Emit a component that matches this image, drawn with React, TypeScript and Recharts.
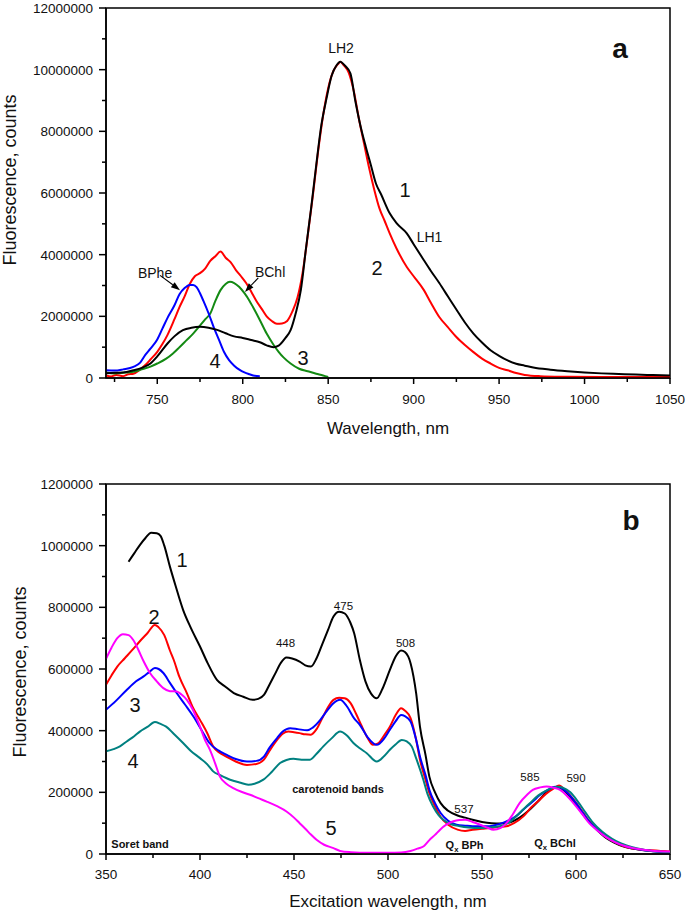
import React from 'react';
import { LineChart, Line, XAxis, YAxis, ReferenceDot, ReferenceLine, ReferenceArea } from 'recharts';

const FONT = '"Liberation Sans", Arial, Helvetica, sans-serif';
type Pt = [number, number];

// ---------- Panel a : emission spectra (wavelength nm, counts) ----------
const aCurve1: Pt[] = [
  [720, 150000], [725, 170000], [730, 180000], [736, 250000], [741, 330000], [746, 470000], [750, 700000],
  [756, 1120000], [760, 1350000], [765, 1550000], [770, 1630000], [775, 1660000], [780, 1630000], [785, 1560000],
  [790, 1450000], [795, 1350000], [800, 1300000], [805, 1230000], [810, 1160000], [814, 1060000], [818, 1000000],
  [821, 1050000], [825, 1300000], [828, 1550000], [831, 2100000], [834, 2850000], [837, 4200000], [840, 5500000],
  [843, 6900000], [846, 8200000], [849, 9060000], [852, 9800000], [855, 10150000], [857, 10260000], [860, 10120000],
  [863, 9880000], [866, 8950000], [869, 8150000], [872, 7500000], [875, 6900000], [878, 6300000], [881, 5950000],
  [886, 5340000], [890, 5020000], [896, 4690000], [900, 4340000], [906, 3820000], [910, 3480000], [915, 3080000],
  [920, 2650000], [925, 2220000], [930, 1800000], [935, 1440000], [940, 1150000], [945, 900000], [950, 720000],
  [955, 570000], [960, 460000], [965, 400000], [970, 340000], [980, 270000], [990, 220000], [1000, 180000],
  [1010, 150000], [1020, 130000], [1030, 110000], [1040, 95000], [1050, 80000],
];
const aCurve2: Pt[] = [
  [720, 80000], [723, 50000], [726, 100000], [730, 60000], [733, 120000], [736, 140000], [740, 280000], [743, 420000],
  [746, 600000], [750, 850000], [753, 1100000], [756, 1400000], [760, 1900000], [763, 2300000], [766, 2650000],
  [769, 3050000], [772, 3300000], [775, 3400000], [778, 3550000], [781, 3800000], [784, 3950000], [787, 4100000],
  [790, 3900000], [793, 3750000], [796, 3500000], [799, 3300000], [802, 3080000], [805, 2800000], [808, 2500000],
  [811, 2250000], [814, 2000000], [817, 1850000], [820, 1760000], [823, 1770000], [826, 1850000], [829, 2150000],
  [832, 2600000], [835, 3400000], [838, 4600000], [841, 5900000], [844, 7300000], [847, 8500000], [850, 9400000],
  [853, 9950000], [856, 10200000], [857, 10260000], [859, 10150000], [862, 9900000], [865, 9300000], [868, 8400000],
  [871, 7600000], [874, 6800000], [877, 6100000], [880, 5500000], [883, 5100000], [886, 4690000], [890, 4200000],
  [896, 3600000], [900, 3300000], [906, 2850000], [910, 2450000], [915, 1980000], [920, 1650000], [925, 1330000],
  [930, 1070000], [935, 840000], [940, 630000], [945, 470000], [950, 330000], [955, 250000], [960, 160000],
  [965, 100000], [974, 60000], [990, 40000], [1010, 30000], [1050, 30000],
];
const aCurve3: Pt[] = [
  [720, 180000], [725, 150000], [730, 170000], [736, 200000], [741, 280000], [746, 370000], [750, 470000],
  [755, 620000], [759, 790000], [763, 1000000], [767, 1220000], [771, 1440000], [775, 1700000], [778, 1900000],
  [781, 2090000], [784, 2500000], [787, 2850000], [790, 3050000], [792.5, 3120000], [795, 3080000], [798, 2950000],
  [801, 2750000], [804, 2500000], [806, 2300000], [810, 1880000], [814, 1440000], [818, 1080000], [821, 850000],
  [824, 660000], [828, 470000], [833, 300000], [838, 220000], [843, 140000], [847, 80000], [850, 30000],
];
const aCurve4: Pt[] = [
  [720, 250000], [725, 240000], [730, 280000], [736, 360000], [740, 500000], [743, 750000], [746, 950000],
  [750, 1250000], [753, 1600000], [756, 1950000], [760, 2350000], [763, 2720000], [766, 2920000], [769, 3020000],
  [771, 3020000], [773, 2950000], [775, 2750000], [777, 2500000], [780, 2100000], [783, 1650000], [786, 1250000],
  [789, 850000], [792, 580000], [795, 400000], [798, 270000], [801, 180000], [804, 120000], [807, 70000], [810, 60000],
];
const aXMajor = [750, 800, 850, 900, 950, 1000, 1050];
const aXMinor = [725, 775, 825, 875, 925, 975, 1025];
const aYMajor = [0, 2000000, 4000000, 6000000, 8000000, 10000000, 12000000];
const aYMinor = [1000000, 3000000, 5000000, 7000000, 9000000, 11000000];

type Note = { x: number; y: number; t: string; s: number; bold?: boolean; sub?: string; rest?: string };
const aNotes: Note[] = [
  { x: 857.5, y: 10700000, t: 'LH2', s: 14 },
  { x: 895, y: 6090000, t: '1', s: 20 },
  { x: 909.3, y: 4570000, t: 'LH1', s: 14 },
  { x: 878.6, y: 3560000, t: '2', s: 20 },
  { x: 783.8, y: 540000, t: '4', s: 20 },
  { x: 835.3, y: 640000, t: '3', s: 20 },
  { x: 748.7, y: 3400000, t: 'BPhe', s: 14 },
  { x: 816, y: 3430000, t: 'BChl', s: 14 },
  { x: 1020.8, y: 10700000, t: 'a', s: 28, bold: true },
];
const aArrows: [Pt, Pt][] = [
  [[751.6, 3330000], [763.3, 2850000]],
  [[809.1, 3250000], [801.3, 2790000]],
];

// ---------- Panel b : excitation spectra ----------
const bCurve1: Pt[] = [
  [362, 948000], [365, 975000], [368, 1002000], [371, 1025000], [374, 1042000], [377, 1040000], [379, 1032000],
  [381, 1000000], [384, 932000], [387, 870000], [391, 792000], [395, 735000], [400, 673000], [404, 620000],
  [409, 565000], [413, 545000], [418, 522000], [423, 510000], [428, 500000], [431, 503000], [434, 516000],
  [437, 550000], [440, 585000], [443, 620000], [446, 637000], [449, 634000], [453, 624000], [456, 612000],
  [459, 608000], [462, 635000], [465, 680000], [468, 725000], [471, 770000], [474, 786000], [477, 780000],
  [480, 750000], [482, 716000], [485, 630000], [488, 560000], [491, 520000], [494, 505000], [497, 535000],
  [501, 597000], [504, 640000], [507, 660000], [509, 655000], [512, 619000], [515, 520000], [517, 413000],
  [520, 320000], [522, 251000], [525, 200000], [528, 165000], [532, 140000], [537, 125000], [541, 118000],
  [545, 111000], [550, 104000], [555, 100000], [560, 99000], [565, 103000], [570, 118000], [575, 142000],
  [580, 172000], [585, 205000], [588, 216000], [591, 216000], [595, 198000], [600, 160000], [605, 118000],
  [610, 85000], [616, 52000], [620, 38000], [625, 25000], [630, 18000], [635, 13000], [640, 10000], [645, 8000],
  [650, 6000],
];
const bCurve2: Pt[] = [
  [350, 549000], [353, 580000], [356, 608000], [360, 635000], [364, 662000], [368, 690000], [372, 716000],
  [376, 743000], [378, 735000], [381, 710000], [384, 660000], [386, 630000], [389, 575000], [393, 522000],
  [396, 478000], [400, 435000], [404, 390000], [407, 349000], [410, 330000], [414, 316000], [419, 300000],
  [425, 289000], [430, 292000], [434, 306000], [437, 335000], [441, 370000], [444, 390000], [447, 397000],
  [450, 395000], [453, 392000], [456, 388000], [459, 387000], [462, 405000], [465, 440000], [468, 475000],
  [471, 500000], [474, 507000], [477, 505000], [480, 490000], [483, 455000], [486, 415000], [489, 378000],
  [492, 354000], [495, 360000], [498, 385000], [501, 413000], [504, 450000], [507, 473000], [509, 465000],
  [512, 441000], [515, 370000], [517, 306000], [520, 240000], [522, 198000], [525, 155000], [528, 120000],
  [532, 95000], [537, 79000], [541, 75000], [545, 79000], [550, 82000], [554, 84000], [559, 88000], [563, 90000],
  [567, 100000], [572, 122000], [576, 150000], [580, 172000], [584, 195000], [588, 212000], [591, 222000],
  [594, 208000], [598, 182000], [602, 150000], [606, 115000], [610, 88000], [616, 55000], [620, 40000],
  [625, 26000], [630, 18000], [635, 14000], [640, 12000], [645, 10000], [650, 8000],
];
const bCurve3: Pt[] = [
  [350, 468000], [355, 495000], [361, 532000], [366, 560000], [370, 576000], [373, 590000], [376, 603000],
  [378, 600000], [380.5, 587000], [384, 555000], [387.6, 522000], [392, 485000], [396.5, 446000], [401, 400000],
  [405, 360000], [410, 335000], [414, 322000], [419, 308000], [425, 300000], [430, 302000], [434, 316000],
  [437, 345000], [441, 376000], [444, 397000], [448, 408000], [452, 405000], [457, 401000], [460, 410000],
  [464, 435000], [467, 460000], [471, 489000], [474.5, 500000], [478, 480000], [482, 440000], [485, 419000],
  [489, 380000], [494, 354000], [498, 375000], [501, 403000], [504, 430000], [507, 451000], [509, 447000],
  [512, 430000], [515, 370000], [517, 316000], [520, 255000], [522, 208000], [525, 165000], [528, 133000],
  [532, 108000], [536.5, 95000], [541, 92000], [545, 90000], [550, 90000], [554, 90000], [559, 97000],
  [563, 106000], [568, 122000], [572, 144000], [577, 170000], [581, 192000], [585, 208000], [589, 218000],
  [592, 215000], [596, 195000], [600, 165000], [604, 130000], [608, 98000], [613, 70000], [618, 48000],
  [623, 32000], [628, 22000], [635, 14000], [640, 10000], [645, 6000], [650, 4000],
];
const bCurve4: Pt[] = [
  [350, 333000], [354, 340000], [357.4, 349000], [361, 365000], [365, 382000], [368, 397000], [372, 412000],
  [376, 428000], [379, 422000], [382, 413000], [386, 390000], [391, 360000], [395, 335000], [400, 311000],
  [404, 290000], [407, 268000], [411, 255000], [416, 241000], [421, 232000], [425.7, 225000], [429, 228000],
  [433.7, 241000], [438, 265000], [442.6, 295000], [446, 305000], [449.7, 309000], [454, 306000], [458.5, 306000],
  [462, 325000], [465.6, 349000], [470, 375000], [474.5, 397000], [478, 385000], [481.6, 360000], [485, 343000],
  [488.7, 327000], [494, 300000], [498, 318000], [501, 338000], [504, 355000], [507.3, 370000], [510, 365000],
  [512.6, 349000], [515, 310000], [518.8, 241000], [521, 195000], [524, 154000], [527, 125000], [529.4, 111000],
  [533, 98000], [538.3, 90000], [543, 86000], [548.9, 84000], [554, 86000], [559.6, 90000], [565, 105000],
  [570, 133000], [575, 162000], [580, 190000], [585, 208000], [590, 218000], [593, 215000], [597, 200000],
  [601, 170000], [605, 135000], [609, 102000], [614, 72000], [619, 50000], [624, 34000], [630, 22000],
  [636, 14000], [642, 9000], [650, 5000],
];
const bCurve5: Pt[] = [
  [350, 633000], [353, 670000], [356, 700000], [359, 713000], [362, 710000], [364.5, 694000], [367, 665000],
  [370, 625000], [373.4, 587000], [377, 560000], [380.5, 538000], [384, 528000], [387.6, 527000], [390, 518000],
  [393, 500000], [396, 470000], [400, 413000], [403, 365000], [405.3, 338000], [408, 295000], [410.6, 251000],
  [414, 228000], [417.7, 214000], [422, 202000], [426.6, 192000], [431, 181000], [435.5, 170000], [441, 155000],
  [446, 138000], [450, 118000], [453, 100000], [456, 82000], [459, 63000], [462, 46000], [466, 30000],
  [471, 19000], [474.5, 10000], [480, 6000], [490, 4000], [500, 4000], [507, 5000], [512, 10000], [516, 18000],
  [519, 25000], [522, 45000], [525, 62000], [527.7, 79000], [531, 95000], [534.8, 106000], [538, 110000],
  [541, 111000], [545, 104000], [549, 95000], [553, 85000], [556, 79000], [560, 85000], [563, 100000],
  [566, 125000], [570, 165000], [574, 192000], [577, 208000], [581, 216000], [584.4, 219000], [588, 215000],
  [591.5, 208000], [595, 190000], [598.6, 165000], [603, 132000], [607, 100000], [611, 78000], [616, 55000],
  [621, 38000], [626, 26000], [630.5, 19000], [636, 14000], [642, 10000], [650, 8000],
];
const bXMajor = [350, 400, 450, 500, 550, 600, 650];
const bXMinor = [375, 425, 475, 525, 575, 625];
const bYMajor = [0, 200000, 400000, 600000, 800000, 1000000, 1200000];
const bYMinor = [100000, 300000, 500000, 700000, 900000, 1100000];
const bNotes: Note[] = [
  { x: 390.4, y: 953700, t: '1', s: 20 },
  { x: 375.5, y: 769000, t: '2', s: 20 },
  { x: 365.4, y: 484000, t: '3', s: 20 },
  { x: 364.4, y: 302000, t: '4', s: 20 },
  { x: 469.7, y: 85000, t: '5', s: 20 },
  { x: 445.5, y: 685000, t: '448', s: 11.5 },
  { x: 476.3, y: 805000, t: '475', s: 11.5 },
  { x: 509.3, y: 685000, t: '508', s: 11.5 },
  { x: 540.4, y: 147000, t: '537', s: 11.5 },
  { x: 575.5, y: 250000, t: '585', s: 11.5 },
  { x: 600, y: 247000, t: '590', s: 11.5 },
  { x: 473.4, y: 212000, t: 'carotenoid bands', s: 11, bold: true },
  { x: 368.1, y: 33000, t: 'Soret band', s: 11, bold: true },
  { x: 540.7, y: 30000, t: 'Q', sub: 'x', rest: ' BPh', s: 11, bold: true },
  { x: 588.8, y: 37000, t: 'Q', sub: 'x', rest: ' BChl', s: 11, bold: true },
  { x: 629.3, y: 1083000, t: 'b', s: 28, bold: true },
];

const toData = (pts: Pt[]) => pts.map(([x, y]) => ({ x, y }));

const makeXTick = (major: number[], labelDy: number) => (props: any) => {
  const { x, y, payload } = props;
  const isMajor = major.includes(payload.value);
  return (
    <g>
      <line x1={x} x2={x} y1={y} y2={y + (isMajor ? 6 : 4)} stroke="#000" strokeWidth={1.5} />
      {isMajor && (
        <text x={x} y={y + labelDy} textAnchor="middle" fontSize={13.5} fontFamily={FONT} fill="#111">
          {payload.value}
        </text>
      )}
    </g>
  );
};

const makeYTick = (major: number[]) => (props: any) => {
  const { x, y, payload } = props;
  const isMajor = major.includes(payload.value);
  return (
    <g>
      <line x1={x - (isMajor ? 7 : 4)} x2={x} y1={y} y2={y} stroke="#000" strokeWidth={1.5} />
      {isMajor && (
        <text x={x - 13} y={y + 5} textAnchor="end" fontSize={13.5} fontFamily={FONT} fill="#111">
          {payload.value}
        </text>
      )}
    </g>
  );
};

const xTitle = (text: string, dy: number) => (p: any) => {
  const vb = p.viewBox;
  return (
    <text x={vb.x + vb.width / 2} y={vb.y + dy} textAnchor="middle" fontSize={17} fontFamily={FONT} fill="#111">
      {text}
    </text>
  );
};

const yTitle = (text: string, bx: number, dyc: number) => (p: any) => {
  const vb = p.viewBox;
  const cx = vb.x + bx;
  const cy = vb.y + vb.height / 2 + dyc;
  return (
    <text x={cx} y={cy} transform={`rotate(-90, ${cx}, ${cy})`} textAnchor="middle" fontSize={18} fontFamily={FONT} fill="#111">
      {text}
    </text>
  );
};

const noteLabel = (n: Note) => (p: any) => {
  const vb = p.viewBox;
  const cx = vb.x + (vb.width || 0) / 2;
  const cy = vb.y + (vb.height || 0) / 2;
  return (
    <text x={cx} y={cy} textAnchor="middle" dominantBaseline="central" fontSize={n.s} fontFamily={FONT}
      fontWeight={n.bold ? 'bold' : 'normal'} fill="#111">
      {n.t}
      {n.sub && <tspan fontSize={n.s * 0.7} dy={4}>{n.sub}</tspan>}
      {n.rest && <tspan dy={n.sub ? -4 : 0}>{n.rest}</tspan>}
    </text>
  );
};

const arrowShape = (p: any) => {
  const { x1, y1, x2, y2 } = p;
  const dx = x2 - x1;
  const dy = y2 - y1;
  const L = Math.hypot(dx, dy) || 1;
  const ux = dx / L;
  const uy = dy / L;
  const hl = 9;
  const hw = 3.2;
  const bx = x2 - ux * hl;
  const by = y2 - uy * hl;
  return (
    <g>
      <line x1={x1} y1={y1} x2={bx} y2={by} stroke="#000" strokeWidth={1.1} />
      <polygon points={`${x2},${y2} ${bx - uy * hw},${by + ux * hw} ${bx + uy * hw},${by - ux * hw}`} fill="#000" />
    </g>
  );
};

const lineProps = { type: 'monotone' as const, dataKey: 'y', dot: false, strokeWidth: 2, isAnimationActive: false, activeDot: false };

export default function App() {
  return (
    <div style={{ position: 'absolute', left: 0, top: 0, width: 685, height: 915, background: '#fff', fontFamily: FONT }}>
      <div style={{ position: 'absolute', left: 0, top: 0 }}>
        <LineChart width={685} height={440} margin={{ top: 8, right: 15, bottom: 10, left: 0 }}>
          <XAxis dataKey="x" type="number" domain={[720, 1050]} allowDataOverflow ticks={[...aXMinor, ...aXMajor].sort((a, b) => a - b)}
            interval={0} tickSize={0} tickMargin={0} tickLine={false} height={52}
            axisLine={{ stroke: '#000', strokeWidth: 1.5 }} tick={makeXTick(aXMajor, 26)} label={xTitle('Wavelength, nm', 56)} />
          <YAxis type="number" domain={[0, 12000000]} allowDataOverflow ticks={[...aYMinor, ...aYMajor].sort((a, b) => a - b)}
            interval={0} tickSize={0} tickMargin={0} tickLine={false} width={106}
            axisLine={{ stroke: '#000', strokeWidth: 1.5 }} tick={makeYTick(aYMajor)} label={yTitle('Fluorescence, counts', 16, -13)} />
          <ReferenceArea x1={720} x2={1050} y1={0} y2={12000000} fill="none" fillOpacity={0} stroke="#000" strokeWidth={1.5} />
          <Line {...lineProps} data={toData(aCurve2)} stroke="#ff0000" />
          <Line {...lineProps} data={toData(aCurve3)} stroke="#138a13" />
          <Line {...lineProps} data={toData(aCurve4)} stroke="#0000ff" />
          <Line {...lineProps} data={toData(aCurve1)} stroke="#000000" />
          {aArrows.map((seg, i) => (
            <ReferenceLine key={`aa${i}`} segment={[{ x: seg[0][0], y: seg[0][1] }, { x: seg[1][0], y: seg[1][1] }]} shape={arrowShape} />
          ))}
          {aNotes.map((n, i) => (
            <ReferenceDot key={`an${i}`} x={n.x} y={n.y} r={0} fill="none" stroke="none" label={noteLabel(n)} />
          ))}
        </LineChart>
      </div>
      <div style={{ position: 'absolute', left: 0, top: 440 }}>
        <LineChart width={685} height={475} margin={{ top: 44, right: 15, bottom: 11, left: 0 }}>
          <XAxis dataKey="x" type="number" domain={[350, 650]} allowDataOverflow ticks={[...bXMinor, ...bXMajor].sort((a, b) => a - b)}
            interval={0} tickSize={0} tickMargin={0} tickLine={false} height={50}
            axisLine={{ stroke: '#000', strokeWidth: 1.5 }} tick={makeXTick(bXMajor, 25)} label={xTitle('Excitation wavelength, nm', 53)} />
          <YAxis type="number" domain={[0, 1200000]} allowDataOverflow ticks={[...bYMinor, ...bYMajor].sort((a, b) => a - b)}
            interval={0} tickSize={0} tickMargin={0} tickLine={false} width={106}
            axisLine={{ stroke: '#000', strokeWidth: 1.5 }} tick={makeYTick(bYMajor)} label={yTitle('Fluorescence, counts', 26, 3)} />
          <ReferenceArea x1={350} x2={650} y1={0} y2={1200000} fill="none" fillOpacity={0} stroke="#000" strokeWidth={1.5} />
          <Line {...lineProps} data={toData(bCurve1)} stroke="#000000" />
          <Line {...lineProps} data={toData(bCurve2)} stroke="#ff0000" />
          <Line {...lineProps} data={toData(bCurve3)} stroke="#0000ff" />
          <Line {...lineProps} data={toData(bCurve4)} stroke="#008080" />
          <Line {...lineProps} data={toData(bCurve5)} stroke="#ff00ff" />
          {bNotes.map((n, i) => (
            <ReferenceDot key={`bn${i}`} x={n.x} y={n.y} r={0} fill="none" stroke="none" label={noteLabel(n)} />
          ))}
        </LineChart>
      </div>
    </div>
  );
}
